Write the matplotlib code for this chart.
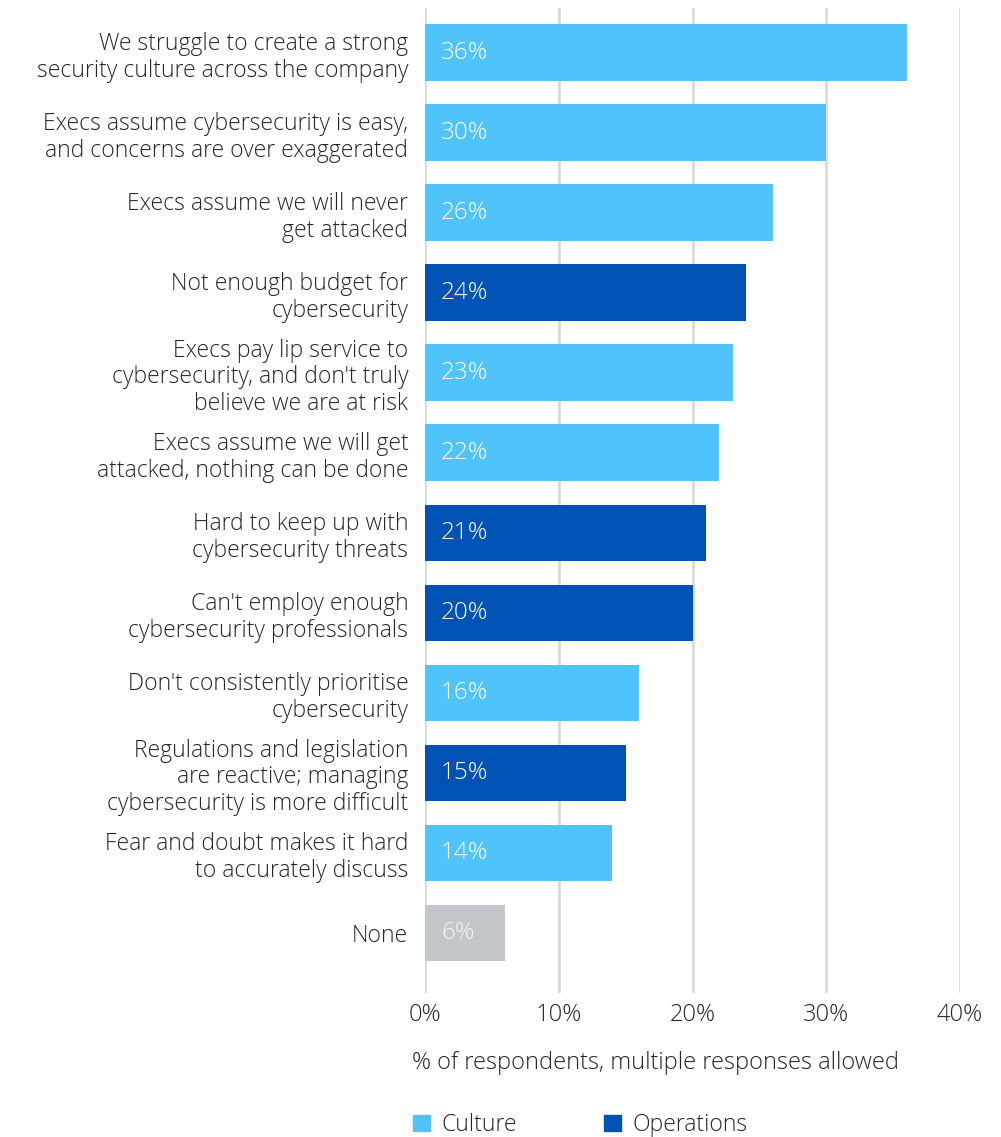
import numpy as np
import matplotlib.pyplot as plt
from matplotlib.patches import Patch

# survey answers, top to bottom
categories = [
    "We struggle to create a strong\nsecurity culture across the company",
    "Execs assume cybersecurity is easy,\nand concerns are over exaggerated",
    "Execs assume we will never\nget attacked",
    "Not enough budget for\ncybersecurity",
    "Execs pay lip service to\ncybersecurity, and don't truly\nbelieve we are at risk",
    "Execs assume we will get\nattacked, nothing can be done",
    "Hard to keep up with\ncybersecurity threats",
    "Can't employ enough\ncybersecurity professionals",
    "Don't consistently prioritise\ncybersecurity",
    "Regulations and legislation\nare reactive; managing\ncybersecurity is more difficult",
    "Fear and doubt makes it hard\nto accurately discuss",
    "None",
]
values = [36, 30, 26, 24, 23, 22, 21, 20, 16, 15, 14, 6]
groups = ["Culture", "Culture", "Culture", "Operations", "Culture", "Culture",
          "Operations", "Operations", "Culture", "Operations", "Culture", "None"]
x_ticks = [0, 10, 20, 30, 40]

colours = {"Culture": "#50c3fb", "Operations": "#0052b5", "None": "#c3c6cb"}
text_col = "#262626"

plt.rcParams['font.family'] = ['Open Sans', 'DejaVu Sans']
plt.rcParams['font.weight'] = 'light'

fig = plt.figure(figsize=(10.01, 11.37), dpi=100)
ax = fig.add_axes([425 / 1001, 1 - 993 / 1137, 535 / 1001, 985 / 1137])

y = np.arange(len(categories))
bars = ax.barh(y, values, height=0.71, color=[colours[g] for g in groups], zorder=3)

# value labels sit inside the left end of each bar
for yi, v, g in zip(y, values, groups):
    ax.text(1.2, yi, f"{v}%", va='center', ha='left', fontsize=17.5,
            color='white' if g != "None" else '#f4f5f6', zorder=4)

ax.set_ylim(11.75, -0.56)
ax.set_xlim(0, 40)
ax.set_yticks(y)
ax.set_yticklabels(categories, fontsize=16.5, color=text_col, linespacing=1.15)
ax.set_xticks(x_ticks)
ax.set_xticklabels([f"{t}%" for t in x_ticks], fontsize=17, color=text_col)
ax.tick_params(axis='y', length=0, pad=12)
ax.tick_params(axis='x', length=0, pad=7)

# vertical gridlines, zero line included
ax.grid(axis='x', color='#d9d9d9', linewidth=2, zorder=0)
ax.grid(axis='y', visible=False)
for s in ax.spines.values():
    s.set_visible(False)

fig.text(412 / 1001, 1 - 1063 / 1137, "% of respondents, multiple responses allowed",
         fontsize=17, color=text_col, va='center', ha='left')

handles = [Patch(color=colours["Culture"], label="Culture"),
           Patch(color=colours["Operations"], label="Operations")]
fig.legend(handles=handles, loc='center left', ncol=2, frameon=False,
           bbox_to_anchor=(392 / 1001, 1 - 1125 / 1137), fontsize=16.5,
           handlelength=0.75, handleheight=0.75, handletextpad=0.5,
           columnspacing=3.8, labelcolor=text_col)

fig.savefig("out.png", dpi=100)
